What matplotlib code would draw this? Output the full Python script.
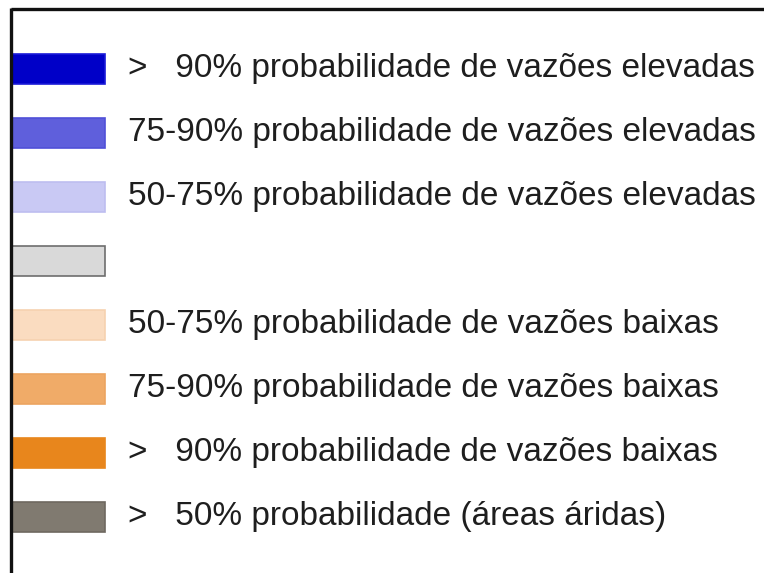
import matplotlib.pyplot as plt

labels = [">   90% probabilidade de vazões elevadas",
          "75-90% probabilidade de vazões elevadas",
          "50-75% probabilidade de vazões elevadas",
          "",
          "50-75% probabilidade de vazões baixas",
          "75-90% probabilidade de vazões baixas",
          ">   90% probabilidade de vazões baixas",
          ">   50% probabilidade (áreas áridas)"]
colors = ["#0000c8", "#5f5fdc", "#c9c9f4", "#d9d9d9",
          "#fadcc0", "#f0ab68", "#e8861c", "#807a70"]
edges = ["#1a1ad8", "#5050d8", "#bdbdf0", "#6e6e6e",
         "#f6d2b0", "#eca460", "#e8861c", "#6e6860"]

plt.rcParams['font.family'] = ['Liberation Sans', 'DejaVu Sans']

fig = plt.figure(figsize=(7.64, 5.73), dpi=100)
ax = fig.add_axes([0, 0, 1, 1])
ax.set_xlim(0, 764)
ax.set_ylim(573, 0)
ax.axis("off")

# frame lines (top and left only)
ax.plot([11, 764], [9, 9], color="#111111", lw=2.4, solid_capstyle="butt")
ax.plot([11, 11], [8, 573], color="#111111", lw=2.4, solid_capstyle="butt")

ys = [69 + 64 * i for i in range(len(labels))]
ax.barh(ys, 93, left=12, height=30, color=colors, edgecolor=edges, linewidth=1.2)
for y, lab in zip(ys, labels):
    ax.text(128, y, lab, fontsize=24, color="#1e1e1e", va="center", ha="left")

fig.savefig("out.png", dpi=100)
